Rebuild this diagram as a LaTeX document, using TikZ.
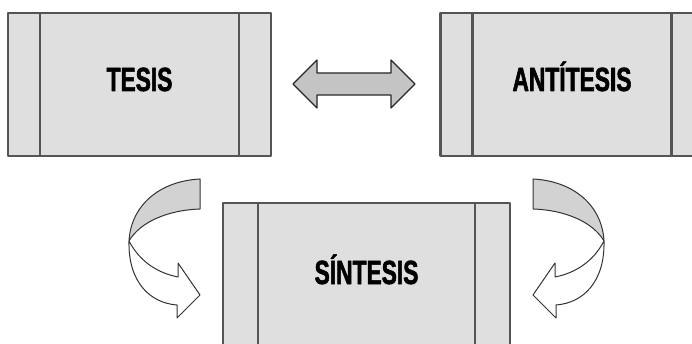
\documentclass[tikz,border=0pt]{standalone}
\usepackage{fontspec}
\usetikzlibrary{positioning}
\newfontfamily\titlefont{Liberation Sans}[FakeStretch=0.68, FakeBold=1.6]
\definecolor{boxgray}{HTML}{DFDFDF}
\definecolor{edgegray}{HTML}{555555}
\definecolor{arrowgray}{HTML}{C4C4C4}
\definecolor{bandgray}{HTML}{D2D2D2}

\tikzset{
    turn/.pic={
        \draw[band, fill=bandgray] (200,179) .. controls (160,181) and (131,205) .. (129,241)
            .. controls (140,222) and (168,210) .. (200,209) -- cycle;
        \draw[band, fill=white] (129,241) .. controls (140,262) and (158,273) .. (178,277)
            -- (178,263) -- (200,295) -- (177,318) -- (177,305)
            .. controls (150,303) and (128,282) .. (129,241) -- cycle;
    }
}

\begin{document}
\begin{tikzpicture}[x=1pt, y=-1pt, node distance=167pt, line join=round,
        main/.style = {draw=edgegray, line width=2.5pt, fill=boxgray, inner sep=0pt,
            minimum width=263pt, minimum height=143pt,
            font=\titlefont\bfseries\fontsize{33.5pt}{36pt}\selectfont,
            text height=24pt, text depth=11pt,
            path picture={\draw[edgegray, line width=2.5pt]
                ([xshift=#1]path picture bounding box.north west) -- ([xshift=#1]path picture bounding box.south west)
                ([xshift=-#1]path picture bounding box.north east) -- ([xshift=-#1]path picture bounding box.south east);}},
        main/.default=32pt,
        band/.style = {draw=black!80, line width=1pt},
        dblarrow/.style = {draw=black!85, line width=1.2pt, fill=arrowgray}]
    \useasboundingbox (0,0) rectangle (692,344);
    \clip (0,0) rectangle (692,344);

    \node[main] (tesis) at (139.5,84.5) {TESIS};
    \node[main] (antitesis) [right = of tesis] {ANTÍTESIS};
    \node[main=35pt, minimum width=287pt, minimum height=149pt] (sintesis) at (366.5,277.5) {SÍNTESIS};

    % double arrow between tesis and antitesis
    \draw[dblarrow] (293,84) -- (317,60) -- (317,73) -- (391,73) -- (391,60) -- (415,84)
        -- (391,108) -- (391,95) -- (317,95) -- (317,108) -- cycle;

    % curved arrows into sintesis
    \pic at (0,0) {turn};
    \pic[xscale=-1] at (733,0) {turn};

\end{tikzpicture}
\end{document}
